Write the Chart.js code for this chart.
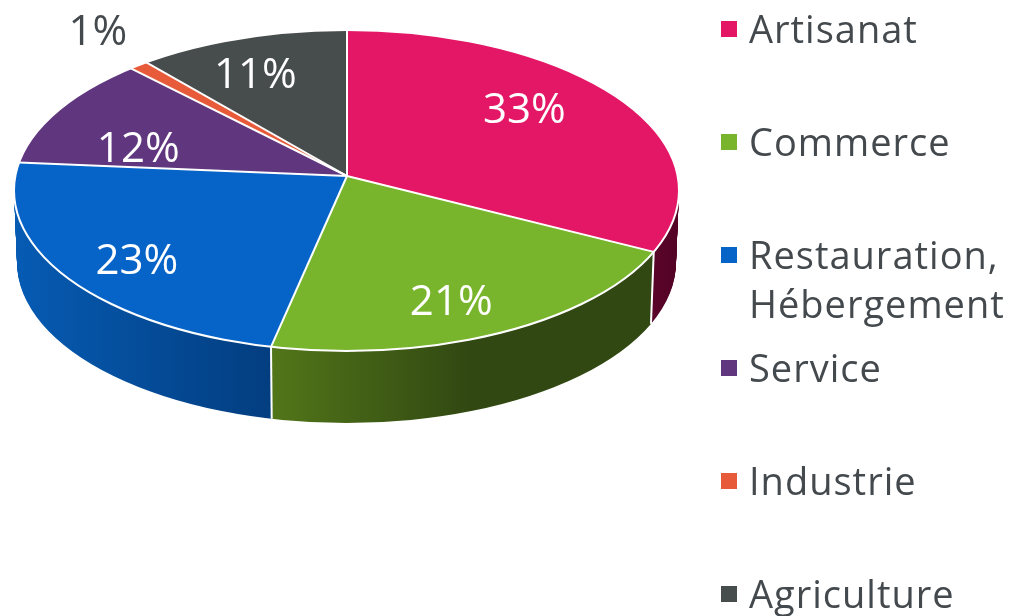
<!DOCTYPE html>
<html>
<head>
    <title>Répartition par secteur</title>
    <script src="https://cdn.jsdelivr.net/npm/chart.js"></script>
    <style>
        html, body { margin: 0; padding: 0; background: #fff; }
        #wrap { width: 1018px; height: 616px; }
    </style>
</head>
<body>
    <div id="wrap"><canvas id="pie" width="1018" height="616"></canvas></div>

    <script>
        // Data
        const categories = ['Artisanat', 'Commerce', 'Restauration, Hébergement', 'Service', 'Industrie', 'Agriculture'];
        const shares = [32.6, 21.1, 22.8, 12.0, 1.0, 10.5];
        const sliceColors = ['#E31766', '#78B52C', '#0663C7', '#60367F', '#E85B3A', '#474C4C'];

        // Shape of the tilted disc on the page
        const disc = { cx: 346.5, cy: 190.5, rx: 332.5, ry: 160.5, apexX: 347, apexY: 176, backRy: 146, frontRy: 175, shear: -0.025, depth: 72, shrink: 3 };
        const over = 1.4; // wedges overshoot the rim, the ellipse clip trims them
        const textColor = '#44494D';
        const fontName = '"Open Sans", "Noto Sans", sans-serif';

        // Side wall colours: [left x, left colour, right x, right colour]
        const wallShades = [
            [650, '#5A0429', 680, '#520326'],
            [270, '#527619', 470, '#314812'],
            [15, '#065BB3', 268, '#033E80'],
            [0, '#3c2450', 100, '#3c2450'],
            [0, '#7a2f1d', 100, '#7a2f1d'],
            [0, '#2c3030', 100, '#2c3030']
        ];

        // Text anchors, offset from the point 60% along each slice's middle
        const labelNudges = [[7, -19], [21, 34], [-48, 21], [-31, 14], [-122, -75], [-27, -17]];

        function ellipseClip(ctx, dy, shrink) {
            ctx.beginPath();
            ctx.ellipse(disc.cx, disc.cy + dy, disc.rx - shrink, disc.ry, 0, 0, Math.PI * 2);
            ctx.clip();
        }

        // Map chart coordinates of the round pie on to one half of the tilted disc
        function placeHalf(ctx, arc, front, dy, shrink) {
            const ry = front ? disc.frontRy : disc.backRy;
            const sx = (disc.rx - shrink) * over / arc.outerRadius;
            const sy = ry * over / arc.outerRadius;
            ctx.translate(disc.apexX, disc.apexY + dy);
            if (front) ctx.transform(1, disc.shear, 0, 1, 0, 0);
            ctx.scale(sx, sy);
            ctx.translate(-arc.x, -arc.y);
            return sx;
        }

        // Where a ray at chart angle a leaves the apex, in page coordinates per unit of length
        function rayDir(a) {
            const front = Math.sin(a) > 0;
            const dx = Math.cos(a) * disc.rx;
            let dy = Math.sin(a) * (front ? disc.frontRy : disc.backRy);
            if (front) dy += disc.shear * dx;
            return [dx, dy];
        }

        function rimPoint(a) {
            const [dx, dy] = rayDir(a);
            const ox = disc.apexX - disc.cx, oy = disc.apexY - disc.cy;
            const A = dx * dx / (disc.rx * disc.rx) + dy * dy / (disc.ry * disc.ry);
            const B = 2 * (ox * dx / (disc.rx * disc.rx) + oy * dy / (disc.ry * disc.ry));
            const C = ox * ox / (disc.rx * disc.rx) + oy * oy / (disc.ry * disc.ry) - 1;
            const t = (-B + Math.sqrt(B * B - 4 * A * C)) / (2 * A);
            return [disc.apexX + dx * t, disc.apexY + dy * t];
        }

        const tiltedPie = {
            id: 'tiltedPie',
            beforeDatasetsDraw(chart) {
                const ctx = chart.ctx;
                const arcs = chart.getDatasetMeta(0).data;

                // side wall: the front half repeated downwards, lowest first
                for (let d = disc.depth; d >= 1; d--) {
                    const shrink = disc.shrink * d / disc.depth;
                    ctx.save();
                    ellipseClip(ctx, d, shrink);
                    ctx.beginPath();
                    ctx.rect(0, disc.apexY + d, chart.width, chart.height);
                    ctx.clip();
                    arcs.forEach((arc, i) => {
                        ctx.save();
                        const sx = placeHalf(ctx, arc, true, d, shrink);
                        const s = wallShades[i];
                        const grad = ctx.createLinearGradient(
                            arc.x + (s[0] - disc.apexX) / sx, 0,
                            arc.x + (s[2] - disc.apexX) / sx, 0);
                        grad.addColorStop(0, s[1]);
                        grad.addColorStop(1, s[3]);
                        const wall = Object.create(arc);
                        wall.options = Object.assign({}, arc.options, { backgroundColor: grad });
                        wall.draw(ctx);
                        ctx.restore();
                    });
                    ctx.restore();
                }

                // white seams down the wall
                ctx.strokeStyle = '#fff';
                ctx.lineWidth = 2;
                arcs.forEach(arc => {
                    const p = rimPoint(arc.startAngle);
                    if (p[1] > disc.cy) {
                        const k = (disc.rx - disc.shrink) / disc.rx;
                        ctx.beginPath();
                        ctx.moveTo(p[0], p[1]);
                        ctx.lineTo(disc.apexX + (p[0] - disc.apexX) * k, p[1] + disc.depth);
                        ctx.stroke();
                    }
                });

                // top face, back and front halves
                [false, true].forEach(front => {
                    ctx.save();
                    ellipseClip(ctx, 0, 0);
                    ctx.beginPath();
                    if (front) ctx.rect(0, disc.apexY - 0.5, chart.width, chart.height);
                    else ctx.rect(0, 0, chart.width, disc.apexY + 0.5);
                    ctx.clip();
                    arcs.forEach(arc => {
                        ctx.save();
                        placeHalf(ctx, arc, front, 0, 0);
                        arc.draw(ctx);
                        ctx.restore();
                    });
                    ctx.restore();
                });

                // white slice edges and rim
                ctx.strokeStyle = '#fff';
                ctx.lineWidth = 2;
                arcs.forEach(arc => {
                    const p = rimPoint(arc.startAngle);
                    ctx.beginPath();
                    ctx.moveTo(disc.apexX, disc.apexY);
                    ctx.lineTo(p[0], p[1]);
                    ctx.stroke();
                });
                ctx.beginPath();
                ctx.ellipse(disc.cx, disc.cy, disc.rx, disc.ry, 0, 0, Math.PI * 2);
                ctx.stroke();
                return false;
            },
            afterDraw(chart) {
                const ctx = chart.ctx;
                const arcs = chart.getDatasetMeta(0).data;

                // percent labels
                ctx.save();
                ctx.font = '42px ' + fontName;
                ctx.textAlign = 'center';
                ctx.textBaseline = 'middle';
                arcs.forEach((arc, i) => {
                    const [dx, dy] = rayDir((arc.startAngle + arc.endAngle) / 2);
                    ctx.fillStyle = i === 4 ? textColor : '#fff';
                    ctx.fillText(Math.round(shares[i]) + '%',
                        disc.apexX + dx * 0.6 + labelNudges[i][0],
                        disc.apexY + dy * 0.6 + labelNudges[i][1]);
                });
                ctx.restore();

                // legend down the right side, one row per category
                ctx.save();
                ctx.font = '38px ' + fontName;
                ctx.letterSpacing = '1px';
                ctx.textBaseline = 'alphabetic';
                categories.forEach((name, i) => {
                    const y = 29 + i * 113;
                    ctx.fillStyle = sliceColors[i];
                    ctx.fillRect(721, y - 8, 16, 16);
                    ctx.fillStyle = textColor;
                    const comma = name.indexOf(', ');
                    if (comma > 0) {
                        ctx.fillText(name.slice(0, comma + 1), 749, y + 14);
                        ctx.fillText(name.slice(comma + 2), 749, y + 63);
                    } else {
                        ctx.fillText(name, 749, y + 14);
                    }
                });
                ctx.restore();
            }
        };

        const ctx = document.getElementById('pie').getContext('2d');
        new Chart(ctx, {
            type: 'pie',
            data: {
                labels: categories,
                datasets: [{
                    data: shares,
                    backgroundColor: sliceColors,
                    borderWidth: 0
                }]
            },
            options: {
                responsive: false,
                animation: false,
                events: [],
                plugins: {
                    legend: { display: false },
                    tooltip: { enabled: false }
                }
            },
            plugins: [tiltedPie]
        });
    </script>
</body>
</html>
